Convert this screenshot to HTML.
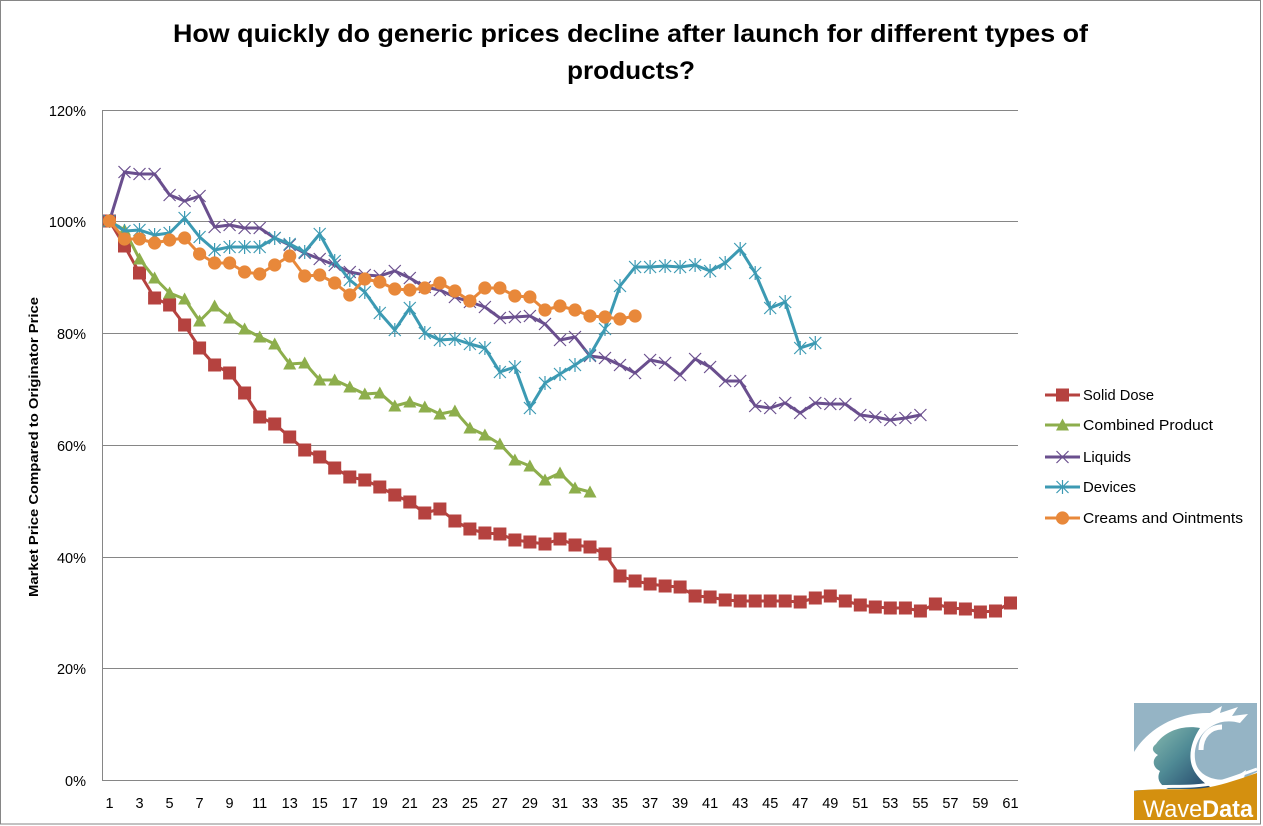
<!DOCTYPE html>
<html><head><meta charset="utf-8"><style>
html,body{margin:0;padding:0;background:#fff;}
svg{display:block;}
text{font-family:"Liberation Sans",sans-serif;}
</style></head><body>
<svg width="1263" height="826" viewBox="0 0 1263 826" xmlns="http://www.w3.org/2000/svg">
<defs>
<marker id="sq" markerUnits="userSpaceOnUse" markerWidth="14" markerHeight="14" refX="6.5" refY="6.5" overflow="visible"><rect x="0" y="0" width="13" height="13" fill="#B5423F"/></marker>
<marker id="tri" markerUnits="userSpaceOnUse" markerWidth="14" markerHeight="14" refX="7" refY="7" overflow="visible"><path d="M7,0.5 L13.5,12.5 L0.5,12.5 Z" fill="#8DAE4C"/></marker>
<marker id="xm" markerUnits="userSpaceOnUse" markerWidth="14" markerHeight="14" refX="7" refY="7" overflow="visible"><path d="M1,1 L13,13 M13,1 L1,13" stroke="#6A4F8E" stroke-width="1.2" fill="none"/></marker>
<marker id="ast" markerUnits="userSpaceOnUse" markerWidth="14" markerHeight="14" refX="7" refY="7" overflow="visible"><path d="M1,1 L13,13 M13,1 L1,13 M7,0 L7,14" stroke="#3C9AB3" stroke-width="1.2" fill="none"/></marker>
<marker id="cir" markerUnits="userSpaceOnUse" markerWidth="14" markerHeight="14" refX="7" refY="7" overflow="visible"><circle cx="7" cy="7" r="6.6" fill="#E8883A"/></marker>
<linearGradient id="wg" x1="0" y1="0" x2="1" y2="1"><stop offset="0" stop-color="#86B8AE"/><stop offset="0.45" stop-color="#4F8A95"/><stop offset="1" stop-color="#1F3E66"/></linearGradient>
</defs>

<rect x="0.5" y="0.5" width="1260" height="823.5" fill="#fff" stroke="#868686" stroke-width="1"/>

<!-- Title -->
<text x="630.5" y="42" font-size="25" font-weight="bold" text-anchor="middle" textLength="915" lengthAdjust="spacingAndGlyphs" fill="#000">How quickly do generic prices decline after launch for different types of</text>
<text x="631" y="79" font-size="25" font-weight="bold" text-anchor="middle" textLength="128" lengthAdjust="spacingAndGlyphs" fill="#000">products?</text>

<!-- Gridlines -->
<g stroke="#868686" stroke-width="1" fill="none">
<line x1="102" y1="110.5" x2="1018" y2="110.5"/>
<line x1="102" y1="221.5" x2="1018" y2="221.5"/>
<line x1="102" y1="333.5" x2="1018" y2="333.5"/>
<line x1="102" y1="445.5" x2="1018" y2="445.5"/>
<line x1="102" y1="557.5" x2="1018" y2="557.5"/>
<line x1="102" y1="668.5" x2="1018" y2="668.5"/>
<line x1="102" y1="780.5" x2="1018" y2="780.5"/>
<line x1="102.5" y1="110" x2="102.5" y2="781"/>
</g>

<!-- Y labels -->
<g font-size="14.5" text-anchor="end" fill="#000">
<text x="86" y="116">120%</text>
<text x="86" y="227">100%</text>
<text x="86" y="339">80%</text>
<text x="86" y="451">60%</text>
<text x="86" y="563">40%</text>
<text x="86" y="674">20%</text>
<text x="86" y="786">0%</text>
</g>

<!-- Y axis title -->
<text transform="translate(38,447) rotate(-90)" font-size="13" font-weight="bold" text-anchor="middle" textLength="300" lengthAdjust="spacingAndGlyphs" fill="#000">Market Price Compared to Originator Price</text>

<!-- X labels -->
<g font-size="14.5" text-anchor="middle" fill="#000">
<text x="109.5" y="808">1</text><text x="139.5" y="808">3</text><text x="169.6" y="808">5</text><text x="199.6" y="808">7</text><text x="229.6" y="808">9</text><text x="259.7" y="808">11</text><text x="289.7" y="808">13</text><text x="319.7" y="808">15</text><text x="349.8" y="808">17</text><text x="379.8" y="808">19</text><text x="409.8" y="808">21</text><text x="439.9" y="808">23</text><text x="469.9" y="808">25</text><text x="499.9" y="808">27</text><text x="529.9" y="808">29</text><text x="560" y="808">31</text><text x="590" y="808">33</text><text x="620" y="808">35</text><text x="650.1" y="808">37</text><text x="680.1" y="808">39</text><text x="710.1" y="808">41</text><text x="740.2" y="808">43</text><text x="770.2" y="808">45</text><text x="800.2" y="808">47</text><text x="830.3" y="808">49</text><text x="860.3" y="808">51</text><text x="890.3" y="808">53</text><text x="920.4" y="808">55</text><text x="950.4" y="808">57</text><text x="980.4" y="808">59</text><text x="1010.5" y="808">61</text>
</g>

<!-- Series -->
<g fill="none" stroke-width="3" stroke-linejoin="round" stroke-linecap="round">
<polyline stroke="#B5423F" marker-start="url(#sq)" marker-mid="url(#sq)" marker-end="url(#sq)" points="109.5,221 124.5,246 139.5,273 154.6,298 169.6,305 184.6,325 199.6,348 214.6,365 229.6,373 244.6,393 259.7,417 274.7,424 289.7,437 304.7,450 319.7,457 334.7,468 349.8,477 364.8,480 379.8,487 394.8,495 409.8,502 424.8,513 439.9,509 454.9,521 469.9,529 484.9,533 499.9,534 514.9,540 529.9,542 545,544 560,539 575,545 590,547 605,554 620,576 635.1,581 650.1,584 665.1,586 680.1,587 695.1,596 710.1,597 725.2,600 740.2,601 755.2,601 770.2,601 785.2,601 800.2,602 815.3,598 830.3,596 845.3,601 860.3,605 875.3,607 890.3,608 905.4,608 920.4,611 935.4,604 950.4,608 965.4,609 980.4,612 995.5,611 1010.5,603"/>
<polyline stroke="#8DAE4C" marker-start="url(#tri)" marker-mid="url(#tri)" marker-end="url(#tri)" points="109.5,221 124.5,230 139.5,259 154.6,278 169.6,293 184.6,299 199.6,321 214.6,306 229.6,318 244.6,329 259.7,337 274.7,344 289.7,364 304.7,363 319.7,380 334.7,380 349.8,387 364.8,394 379.8,393 394.8,406 409.8,402 424.8,407 439.9,414 454.9,411 469.9,428 484.9,435 499.9,444 514.9,460 529.9,466 545,480 560,473 575,488 590,492"/>
<polyline stroke="#6A4F8E" marker-start="url(#xm)" marker-mid="url(#xm)" marker-end="url(#xm)" points="109.5,221 124.5,172 139.5,174 154.6,174 169.6,195 184.6,201 199.6,196 214.6,227 229.6,225 244.6,228 259.7,228 274.7,238 289.7,245 304.7,253 319.7,259 334.7,265 349.8,272 364.8,275 379.8,276 394.8,271 409.8,278 424.8,287 439.9,290 454.9,297 469.9,302 484.9,307 499.9,318 514.9,317 529.9,316 545,324 560,340 575,337 590,356 605,358 620,365 635.1,373 650.1,360 665.1,363 680.1,375 695.1,359 710.1,367 725.2,381 740.2,381 755.2,406 770.2,408 785.2,403 800.2,413 815.3,403 830.3,404 845.3,404 860.3,415 875.3,417 890.3,420 905.4,418 920.4,415"/>
<polyline stroke="#3C9AB3" marker-start="url(#ast)" marker-mid="url(#ast)" marker-end="url(#ast)" points="109.5,221 124.5,231 139.5,230 154.6,235 169.6,233 184.6,218 199.6,237 214.6,250 229.6,247 244.6,247 259.7,247 274.7,238 289.7,244 304.7,252 319.7,234 334.7,261 349.8,280 364.8,292 379.8,313 394.8,330 409.8,308 424.8,333 439.9,340 454.9,339 469.9,344 484.9,348 499.9,372 514.9,367 529.9,408 545,383 560,374 575,365 590,355 605,329 620,286 635.1,267 650.1,267 665.1,266 680.1,267 695.1,265 710.1,271 725.2,263 740.2,249 755.2,273 770.2,308 785.2,302 800.2,348 815.3,343"/>
<polyline stroke="#E8883A" marker-start="url(#cir)" marker-mid="url(#cir)" marker-end="url(#cir)" points="109.5,221 124.5,239 139.5,239 154.6,243 169.6,240 184.6,238 199.6,254 214.6,263 229.6,263 244.6,272 259.7,274 274.7,265 289.7,256 304.7,276 319.7,275 334.7,283 349.8,295 364.8,279 379.8,282 394.8,289 409.8,290 424.8,288 439.9,283 454.9,291 469.9,301 484.9,288 499.9,288 514.9,296 529.9,297 545,310 560,306 575,310 590,316 605,317 620,319 635.1,316"/>
</g>

<!-- Legend -->
<g fill="none" stroke-width="3">
<polyline stroke="#B5423F" marker-mid="url(#sq)" points="1045,395 1062.5,395 1080,395"/>
<polyline stroke="#8DAE4C" marker-mid="url(#tri)" points="1045,425 1062.5,425 1080,425"/>
<polyline stroke="#6A4F8E" marker-mid="url(#xm)" points="1045,457 1062.5,457 1080,457"/>
<polyline stroke="#3C9AB3" marker-mid="url(#ast)" points="1045,487 1062.5,487 1080,487"/>
<polyline stroke="#E8883A" marker-mid="url(#cir)" points="1045,518 1062.5,518 1080,518"/>
</g>
<g font-size="15" fill="#000">
<text x="1083" y="400" textLength="71" lengthAdjust="spacingAndGlyphs">Solid Dose</text>
<text x="1083" y="430" textLength="130" lengthAdjust="spacingAndGlyphs">Combined Product</text>
<text x="1083" y="462" textLength="48" lengthAdjust="spacingAndGlyphs">Liquids</text>
<text x="1083" y="492" textLength="53" lengthAdjust="spacingAndGlyphs">Devices</text>
<text x="1083" y="523" textLength="160" lengthAdjust="spacingAndGlyphs">Creams and Ointments</text>
</g>

<!-- Logo -->
<g>
<rect x="1134" y="703" width="123" height="117" fill="#95B4C5"/>
<!-- white wave body -->
<path d="M1134,752 C1150,726 1180,712 1210,713 L1222,706 L1220,713 L1238,707 L1232,716 L1248,714 L1240,723 C1230,720 1220,721 1212,726 C1198,734 1192,750 1196,764 C1200,777 1218,783 1234,778 L1246,770 L1244,778 L1257,772 L1257,790 L1134,790 Z" fill="#fff"/>
<!-- inner curl circle -->
<circle cx="1222" cy="750" r="21" fill="#95B4C5"/>
<path d="M1201,750 C1201,736 1210,727 1222,727" fill="none" stroke="#fff" stroke-width="5"/>
<!-- dark gradient wave -->
<path d="M1156,744 C1166,730 1184,725 1200,728 C1192,740 1188,754 1192,766 C1196,777 1206,785 1214,789 L1168,789 C1160,785 1156,779 1160,771 C1152,767 1152,759 1158,755 C1151,751 1152,747 1156,744 Z" fill="url(#wg)"/>
<!-- orange band -->
<path d="M1134,791 C1160,787 1190,792 1215,786 C1232,782 1245,777 1257,773 L1257,820 L1134,820 Z" fill="#D4900F"/>
<path d="M1134,789 C1160,784 1190,789 1215,783 C1232,779 1245,773 1257,769" fill="none" stroke="#fff" stroke-width="3"/>
<text x="1143" y="817" font-size="24" fill="#fff" textLength="110" lengthAdjust="spacingAndGlyphs">Wave<tspan font-weight="bold">Data</tspan></text>
</g>
</svg>
</body></html>
